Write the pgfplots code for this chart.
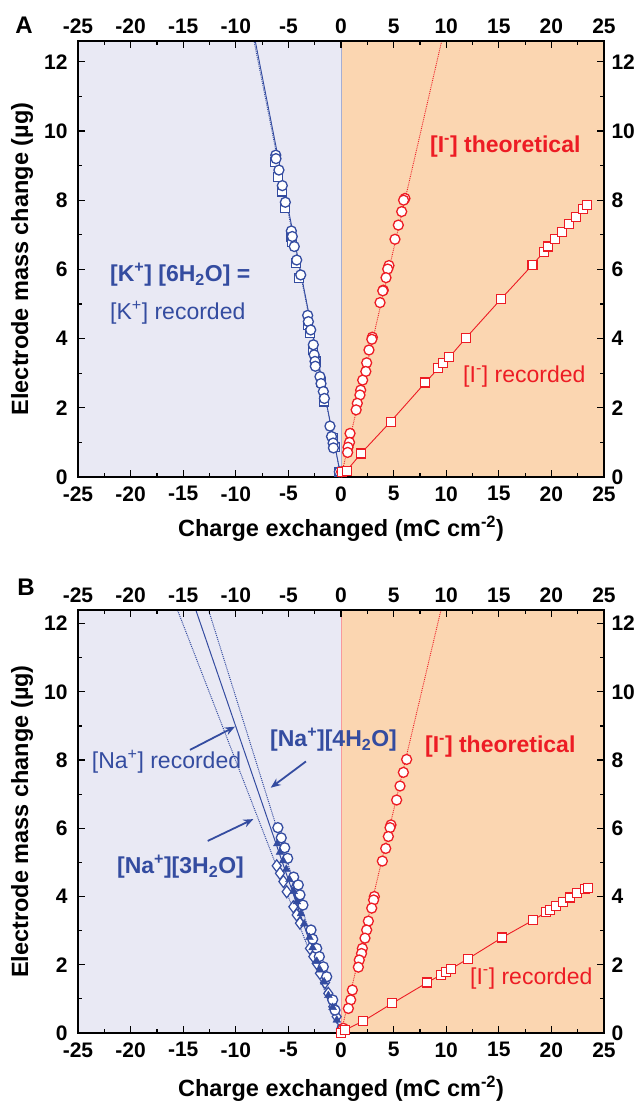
\documentclass[border=0pt]{standalone}
\usepackage{fontspec}
\setmainfont{Liberation Sans}
\usepackage{pgfplots}
\pgfplotsset{compat=1.18}
\usetikzlibrary{arrows.meta}

\definecolor{kblue}{RGB}{52,76,160}
\definecolor{ired}{RGB}{237,28,36}
\definecolor{lav}{RGB}{233,233,244}
\definecolor{peach}{RGB}{251,214,177}

\newcommand\tickfont{\fontsize{21}{24}\selectfont\bfseries}
\newcommand\labfont{\fontsize{23.5}{26}\selectfont\bfseries}
\newcommand\annfont{\fontsize{23}{26}\selectfont}

\pgfplotsset{
 panel/.style={
  scale only axis, width=526pt,
  xmin=-25,xmax=25,ymin=0,
  xtick={-25,-20,-15,-10,-5,0,5,10,15,20,25},
  xticklabels={-25,-20,-15,-10,-5,0,5,10,15,20,25},
  ytick={0,2,4,6,8,10,12}, yticklabels={0,2,4,6,8,10,12},
  minor x tick num=1, minor y tick num=1,
  major tick length=7pt, minor tick length=4pt,
  every tick/.style={black, line width=1.2pt},
  axis line style={line width=1.4pt, black},
  tick label style={font=\tickfont},
  label style={font=\labfont},
  axis on top,
 },
 mainax/.style={panel, xticklabel style={yshift=-6pt}, yticklabel style={xshift=-7pt},
  xlabel={Charge exchanged (mC cm\textsuperscript{-2})},
  ylabel={Electrode mass change (µg)},
  ylabel style={at={(axis description cs:-0.1065,0.5)}, anchor=center}},
 overlay/.style={panel, xticklabel pos=right, yticklabel pos=right,
  xticklabel style={yshift=4pt}, yticklabel style={xshift=4pt},
  axis line style={draw=none}, major tick length=0pt, minor tick length=0pt},
 circf/.style={only marks, mark=*, mark size=5pt, mark options={line width=1.3pt, fill=white}},
 sq/.style={mark=square*, mark size=4.5pt, mark options={line width=1.2pt, fill=white, solid}},
 dia/.style={only marks, mark=diamond*, mark size=6pt, mark options={line width=1.2pt, fill=white}},
}

\begin{document}
\begin{tikzpicture}
\path[use as bounding box] (0,0) rectangle (642pt,1111pt);

%================ Panel A =================
\begin{axis}[mainax, at={(78pt,634pt)}, anchor=south west, height=436pt, ymax=12.6,
  xlabel style={at={(axis description cs:0.5,0)}, anchor=center, yshift=-52pt}]
\fill[lav] (axis cs:-25,0) rectangle (axis cs:0,12.6);
\fill[peach] (axis cs:0,0) rectangle (axis cs:25,12.6);
\draw[color=kblue!45, line width=0.8pt] (axis cs:0,0) -- (axis cs:0,12.6);
% K+ lines
\addplot[kblue, line width=0.9pt] coordinates {(0,0) (-8.15,12.6)};
\addplot[kblue, line width=0.9pt, densely dotted] coordinates {(0,0) (-8.27,12.6)};
% K+ squares
\addplot[kblue, only marks, sq] coordinates {(-6.27,9.11) (-5.96,8.68) (-5.64,8.25) (-5.32,7.77) (-4.75,6.95) (-4.63,6.8) (-4.28,6.18) (-3.96,5.74) (-3.11,4.39) (-2.96,4.15) (-2.69,3.67) (-2.38,3.34) (-1.9,2.75) (-1.58,2.18) (-0.79,1.12) (-0.57,0.87) (-0.16,0.15)};
% K+ circles
\addplot[kblue, circf] coordinates {(-6.2,9.3) (-6.18,9.2) (-5.9,8.87) (-5.58,8.42) (-5.29,7.94) (-4.72,7.11) (-4.63,6.95) (-4.44,6.66) (-4.21,6.27) (-3.83,5.84) (-3.17,4.67) (-3.1,4.49) (-2.88,4.25) (-2.63,3.82) (-2.55,3.53) (-2.47,3.34) (-2.44,3.2) (-2.0,2.9) (-1.9,2.7) (-1.68,2.47) (-1.58,2.27) (-1.05,1.47) (-0.9,1.17) (-0.75,0.98) (-0.72,0.84) (-0.16,0.15)};
% I- theoretical
\addplot[ired, line width=0.9pt, densely dotted] coordinates {(0,0) (9.57,12.6)};
\addplot[ired, circf] coordinates {(6.08,8.05) (5.95,8.0) (5.77,7.67) (5.45,7.28) (5.13,6.87) (4.56,6.11) (4.44,6.01) (4.28,5.76) (4.02,5.40) (3.97,5.38) (3.71,5.04) (2.98,4.04) (2.93,3.98) (2.66,3.67) (2.44,3.30) (2.36,3.05) (2.06,2.80) (1.87,2.51) (1.8,2.37) (1.55,2.13) (1.44,1.94) (0.86,1.26) (0.81,1.0) (0.67,0.86) (0.63,0.71) (0.06,0.15)};
% I- recorded
\addplot[ired, line width=0.9pt, sq] coordinates {(0.06,0.15) (0.54,0.18) (1.9,0.68) (4.72,1.60) (8.02,2.73) (9.25,3.14) (9.73,3.29) (10.3,3.46) (11.85,4.01) (15.2,5.14) (18.2,6.13) (19.3,6.51) (19.7,6.66) (20.34,6.87) (21.0,7.09) (21.7,7.30) (22.34,7.52) (23.03,7.74) (23.35,7.85)};
% annotations
\node[anchor=west, text=kblue, font=\annfont\bfseries, inner sep=0pt] at (axis cs:-21.96,5.85) {[K\textsuperscript{+}] [6H\textsubscript{2}O] =};
\node[anchor=west, text=kblue, font=\annfont, inner sep=0pt] at (axis cs:-21.96,4.75) {[K\textsuperscript{+}] recorded};
\node[anchor=west, text=ired, font=\annfont\bfseries, inner sep=0pt] at (axis cs:8.46,9.55) {[I\textsuperscript{-}] theoretical};
\node[anchor=west, text=ired, font=\annfont, inner sep=0pt] at (axis cs:11.6,2.89) {[I\textsuperscript{-}] recorded};
\end{axis}
\begin{axis}[overlay, at={(78pt,634pt)}, anchor=south west, height=436pt, ymax=12.6]
\addplot[draw=none] coordinates {(0,0)};
\end{axis}

%================ Panel B =================
\begin{axis}[mainax, at={(78pt,78pt)}, anchor=south west, height=423pt, ymax=12.4,
  xlabel style={at={(axis description cs:0.5,0)}, anchor=center, yshift=-56pt}]
\fill[lav] (axis cs:-25,0) rectangle (axis cs:0,12.4);
\fill[peach] (axis cs:0,0) rectangle (axis cs:25,12.4);
\draw[color=ired!45, line width=0.8pt] (axis cs:0,0) -- (axis cs:0,12.4);
% Na+ lines
\addplot[kblue, line width=1pt] coordinates {(0,0) (-13.8,12.4)};
\addplot[kblue, line width=1pt, densely dotted] coordinates {(0,0) (-12.59,12.4)};
\addplot[kblue, line width=1pt, densely dotted] coordinates {(0,0) (-15.54,12.4)};
% Na+ [3H2O] diamonds
\addplot[kblue, dia] coordinates {(-6.11,4.90) (-5.8,4.68) (-5.48,4.44) (-5.16,4.14) (-4.53,3.70) (-4.21,3.46) (-3.9,3.22) (-2.95,2.48) (-2.63,2.24) (-2.31,2.04) (-2.0,1.75) (-1.52,1.48) (-1.21,1.16) (-0.73,0.77) (-0.41,0.48) (0.06,0.09)};
% Na+ [4H2O] circles
\addplot[kblue, circf] coordinates {(-6.0,6.02) (-5.68,5.72) (-5.35,5.43) (-5.07,5.12) (-4.5,4.57) (-4.21,4.29) (-4.06,4.34) (-3.96,4.03) (-3.9,4.05) (-3.62,3.75) (-2.85,3.02) (-2.69,2.75) (-2.31,2.48) (-2.06,2.24) (-1.68,1.94) (-1.36,1.65) (-0.79,0.97) (-0.57,0.67) (0.06,0.11)};
% Na+ recorded filled
\addplot[kblue, only marks, mark=triangle*, mark size=4.5pt, mark options={fill=kblue}] coordinates {(-6.05,5.55) (-5.8,5.3) (-5.5,5.05) (-5.2,4.8) (-4.9,4.5) (-4.5,4.15) (-4.2,3.85) (-3.8,3.5) (-3.5,3.2) (-3.0,2.8) (-2.7,2.5) (-2.3,2.1) (-2.0,1.85) (-1.6,1.5) (-1.2,1.1) (-0.8,0.75) (-0.4,0.38)};
% I- theoretical
\addplot[ired, line width=0.9pt, densely dotted] coordinates {(0,0) (9.5,12.4)};
\addplot[ired, circf] coordinates {(6.24,8.02) (5.93,7.64) (5.61,7.24) (5.29,6.83) (4.75,6.10) (4.66,6.02) (4.5,5.76) (4.25,5.41) (3.93,5.04) (3.17,4.0) (3.1,3.9) (2.92,3.66) (2.6,3.28) (2.44,3.02) (2.28,2.78) (2.03,2.48) (1.95,2.33) (1.74,2.14) (1.65,1.93) (1.08,1.26) (0.92,0.97) (0.7,0.72) (0.22,0.14)};
% I- recorded
\addplot[ired, line width=0.9pt, sq] coordinates {(0,0) (0.38,0.09) (2.12,0.35) (4.88,0.87) (8.2,1.48) (9.47,1.70) (9.95,1.78) (10.46,1.88) (12.04,2.17) (15.33,2.80) (18.28,3.31) (19.49,3.54) (19.87,3.61) (20.41,3.72) (21.13,3.85) (21.77,3.97) (22.4,4.10) (23.19,4.22) (23.45,4.26)};
% annotations
\node[anchor=west, text=kblue, font=\annfont, inner sep=0pt] at (axis cs:-23.7,7.95) {[Na\textsuperscript{+}] recorded};
\node[anchor=west, text=kblue, font=\annfont\bfseries, inner sep=0pt] at (axis cs:-6.75,8.59) {[Na\textsuperscript{+}][4H\textsubscript{2}O]};
\node[anchor=west, text=kblue, font=\annfont\bfseries, inner sep=0pt] at (axis cs:-21.3,4.87) {[Na\textsuperscript{+}][3H\textsubscript{2}O]};
\node[anchor=west, text=ired, font=\annfont\bfseries, inner sep=0pt] at (axis cs:7.98,8.4) {[I\textsuperscript{-}] theoretical};
\node[anchor=west, text=ired, font=\annfont, inner sep=0pt] at (axis cs:12.26,1.61) {[I\textsuperscript{-}] recorded};
\draw[kblue, line width=1.8pt, -{Stealth[length=10pt,width=8pt]}] (axis cs:-14.35,8.3) -- (axis cs:-10.08,8.98);
\draw[kblue, line width=1.8pt, -{Stealth[length=10pt,width=8pt]}] (axis cs:-3.33,7.96) -- (axis cs:-6.68,7.19);
\draw[kblue, line width=1.8pt, -{Stealth[length=10pt,width=8pt]}] (axis cs:-12.67,5.63) -- (axis cs:-8.33,6.27);
\end{axis}
\begin{axis}[overlay, at={(78pt,78pt)}, anchor=south west, height=423pt, ymax=12.4]
\addplot[draw=none] coordinates {(0,0)};
\end{axis}

\node[font=\fontsize{24}{26}\selectfont\bfseries] at (24pt,1086pt) {A};
\node[font=\fontsize{24}{26}\selectfont\bfseries] at (26pt,524pt) {B};
\end{tikzpicture}
\end{document}
